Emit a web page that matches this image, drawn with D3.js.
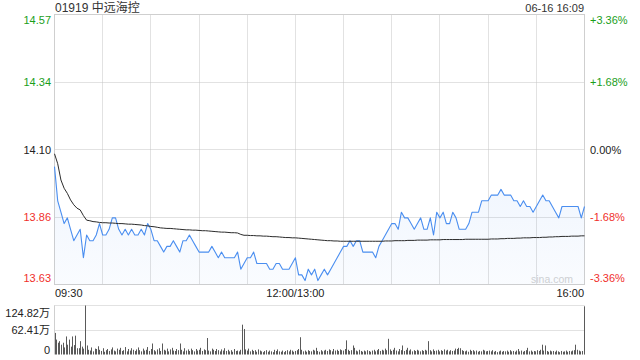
<!DOCTYPE html>
<html>
<head>
<meta charset="utf-8">
<script src="https://cdn.jsdelivr.net/npm/d3@7"></script>
<style>
  body { margin: 0; background: #fff; }
  svg { display: block; font-family: "Liberation Sans", Arial, "Noto Sans CJK SC", sans-serif; }
</style>
</head>
<body>
<svg width="640" height="360"></svg>
<script>
const TITLE = "01919 中远海控"
const STAMP = "06-16 16:09"
const PREV_CLOSE = 14.10
const PCT_STEPS = [3.36, 1.68, 0, -1.68, -3.36]
const PRICE_LABELS = ["14.57", "14.34", "14.10", "13.86", "13.63"]
const PCT_LABELS = ["+3.36%", "+1.68%", "0.00%", "-1.68%", "-3.36%"]
const TIME_LABELS = ["09:30", "12:00/13:00", "16:00"]
const TIME_LABEL_MINUTES = [0, 150, 330]
const VOLUME_TICKS = [124.82, 62.41, 0]
const VOLUME_LABELS = ["124.82万", "62.41万", "0"]

// one sample every 2 minutes, 09:30 .. 16:00 (lunch break removed)
const prices = [
  14.04, 13.92, 13.88, 13.84, 13.86, 13.82, 13.78, 13.80, 13.82, 13.72,
  13.80, 13.78, 13.78, 13.80, 13.84, 13.80, 13.80, 13.82, 13.86, 13.86,
  13.82, 13.80, 13.82, 13.80, 13.82, 13.80, 13.80, 13.82, 13.80, 13.84,
  13.82, 13.78, 13.78, 13.76, 13.74, 13.76, 13.76, 13.78, 13.76, 13.74,
  13.78, 13.78, 13.80, 13.78, 13.76, 13.74, 13.74, 13.74, 13.74, 13.76,
  13.74, 13.72, 13.74, 13.72, 13.72, 13.72, 13.72, 13.74, 13.68, 13.70,
  13.72, 13.72, 13.74, 13.70, 13.70, 13.70, 13.70, 13.68, 13.68, 13.70,
  13.70, 13.68, 13.68, 13.68, 13.70, 13.72, 13.66, 13.66, 13.64, 13.68,
  13.66, 13.68, 13.64, 13.66, 13.68, 13.66, 13.68, 13.70, 13.72, 13.74,
  13.76, 13.76, 13.78, 13.76, 13.78, 13.78, 13.74, 13.74, 13.74, 13.74,
  13.72, 13.76, 13.78, 13.80, 13.82, 13.84, 13.84, 13.82, 13.88, 13.86,
  13.86, 13.84, 13.82, 13.84, 13.86, 13.82, 13.82, 13.86, 13.80, 13.88,
  13.86, 13.88, 13.84, 13.84, 13.88, 13.86, 13.82, 13.82, 13.82, 13.84,
  13.88, 13.88, 13.88, 13.92, 13.92, 13.92, 13.94, 13.94, 13.94, 13.96,
  13.94, 13.94, 13.94, 13.92, 13.92, 13.90, 13.92, 13.90, 13.90, 13.88,
  13.90, 13.92, 13.94, 13.92, 13.92, 13.90, 13.88, 13.86, 13.90, 13.90,
  13.90, 13.90, 13.90, 13.90, 13.86, 13.90
]

const averages = [
  14.085, 14.050, 13.993, 13.964, 13.946, 13.923, 13.906, 13.894, 13.888, 13.868,
  13.852, 13.850, 13.847, 13.846, 13.844, 13.843, 13.843, 13.842, 13.842, 13.841,
  13.840, 13.840, 13.839, 13.838, 13.838, 13.837, 13.836, 13.835, 13.833, 13.832,
  13.830, 13.829, 13.827, 13.825, 13.824, 13.823, 13.823, 13.822, 13.821, 13.820,
  13.819, 13.818, 13.818, 13.817, 13.817, 13.816, 13.815, 13.815, 13.814, 13.813,
  13.812, 13.811, 13.810, 13.810, 13.809, 13.808, 13.808, 13.807, 13.802, 13.799,
  13.799, 13.798, 13.798, 13.797, 13.797, 13.796, 13.796, 13.795, 13.794, 13.794,
  13.793, 13.792, 13.791, 13.791, 13.790, 13.790, 13.789, 13.788, 13.787, 13.786,
  13.785, 13.784, 13.783, 13.782, 13.781, 13.780, 13.780, 13.779, 13.779, 13.778,
  13.778, 13.778, 13.778, 13.778, 13.778, 13.778, 13.778, 13.778, 13.778, 13.778,
  13.778, 13.778, 13.778, 13.779, 13.779, 13.779, 13.780, 13.780, 13.780, 13.780,
  13.781, 13.781, 13.781, 13.782, 13.782, 13.782, 13.782, 13.783, 13.783, 13.783,
  13.783, 13.784, 13.784, 13.784, 13.784, 13.784, 13.784, 13.784, 13.785, 13.785,
  13.785, 13.785, 13.785, 13.785, 13.785, 13.785, 13.786, 13.786, 13.786, 13.787,
  13.787, 13.788, 13.788, 13.788, 13.789, 13.789, 13.790, 13.790, 13.790, 13.791,
  13.791, 13.791, 13.792, 13.792, 13.793, 13.793, 13.794, 13.794, 13.795, 13.795,
  13.795, 13.796, 13.796, 13.796, 13.797, 13.797
]

// one bar per minute, in 万 shares
const volumes = [
  55, 38, 30, 34, 25, 30, 18, 46, 25, 38,
  20, 46, 24, 48, 16, 16, 34, 20, 15, 124.82,
  23, 12, 10, 18, 8, 15, 14, 21, 12, 9,
  16, 7, 11, 14, 9, 13, 18, 10, 8, 15,
  12, 17, 9, 11, 19, 8, 14, 10, 16, 12,
  9, 13, 18, 11, 8, 15, 10, 12, 19, 9,
  14, 28, 11, 8, 13, 16, 9, 28, 12, 10,
  15, 8, 13, 17, 10, 9, 14, 11, 28, 12,
  8, 16, 10, 13, 9, 15, 11, 8, 14, 10,
  12, 17, 9, 13, 11, 42, 10, 8, 15, 12,
  9, 14, 11, 8, 13, 10, 16, 9, 12, 8,
  11, 7, 14, 9, 10, 8, 12, 76, 65, 13,
  10, 15, 8, 12, 9, 11, 7, 13, 10, 8,
  6, 9, 11, 7, 10, 8, 6, 12, 9, 13,
  8, 7, 10, 6, 9, 11, 8, 12, 10, 7,
  9, 11, 14, 44, 12, 8, 10, 7, 11, 9,
  8, 12, 10, 17, 9, 7, 11, 8, 10, 12,
  9, 13, 11, 8, 14, 10, 12, 9, 13, 11,
  10, 14, 36, 12, 9, 11, 23, 17, 10, 8,
  12, 9, 7, 10, 8, 11, 9, 7, 10, 12,
  8, 11, 14, 9, 12, 10, 15, 11, 40, 13,
  9, 12, 17, 10, 8, 14, 11, 23, 9, 12,
  17, 10, 13, 8, 11, 9, 12, 10, 8, 11,
  9, 12, 10, 34, 11, 8, 13, 9, 10, 12,
  8, 11, 9, 13, 10, 12, 8, 11, 9, 10,
  15, 14, 17, 16, 11, 9, 8, 10, 7, 12,
  9, 11, 8, 10, 7, 9, 8, 12, 10, 8,
  9, 10, 8, 11, 7, 9, 6, 8, 10, 7,
  9, 8, 10, 7, 11, 8, 9, 7, 10, 14,
  8, 10, 7, 9, 11, 17, 8, 10, 7, 9,
  8, 11, 9, 12, 25, 10, 23, 9, 7, 10,
  8, 9, 7, 10, 8, 6, 9, 7, 8, 10,
  7, 9, 8, 10, 11, 25, 12, 10, 8, 9,
  122.5
]

const SESSION_MINUTES = 330
const PRICE_STEP = 2
const [LEFT, RIGHT] = [54.5, 584.5]
const [PRICE_TOP, PRICE_BOTTOM] = [14.5, 284.5]
const [VOL_TOP, VOL_BOTTOM] = [305.5, 354.5]
const GREEN = "#1a9e1a"
const RED = "#f0302c"
const GRID = "#c4c4c4"
const BORDER = "#cfcfcf"

const crisp = (v) => Math.round(v - 0.5) + 0.5
const pctColor = (p) => (p > 0 ? GREEN : p < 0 ? RED : "#222")

const svg = d3.select("svg")

const x = d3.scaleLinear().domain([0, SESSION_MINUTES]).range([LEFT, RIGHT])
const xBar = d3.scaleLinear().domain([0, SESSION_MINUTES]).range([55, 584])
const maxPct = d3.max(PCT_STEPS) / 100
const y = d3.scaleLinear()
  .domain([PREV_CLOSE * (1 - maxPct), PREV_CLOSE * (1 + maxPct)])
  .range([PRICE_BOTTOM, PRICE_TOP])
const yVol = d3.scaleLinear().domain([0, d3.max(VOLUME_TICKS)]).range([VOL_BOTTOM, VOL_TOP])

// gradient under the price line
const grad = svg.append("defs")
  .append("linearGradient")
  .attr("id", "priceFill")
  .attr("gradientUnits", "userSpaceOnUse")
  .attr("x1", 0).attr("x2", 0)
  .attr("y1", PRICE_TOP).attr("y2", PRICE_BOTTOM)
grad.append("stop").attr("offset", "0%").attr("stop-color", "#4a8ef0").attr("stop-opacity", 0.16)
grad.append("stop").attr("offset", "100%").attr("stop-color", "#4a8ef0").attr("stop-opacity", 0.03)

// grid
const levels = PCT_STEPS.map((p) => PREV_CLOSE * (1 + p / 100))
svg.append("g")
  .selectAll("line")
  .data(levels.slice(1, -1))
  .enter()
  .append("line")
  .attr("x1", LEFT).attr("x2", RIGHT)
  .attr("y1", (d) => crisp(y(d))).attr("y2", (d) => crisp(y(d)))
  .attr("stroke", GRID)
  .attr("stroke-dasharray", "1,1")

svg.append("g")
  .selectAll("line")
  .data(d3.range(30, SESSION_MINUTES, 30))
  .enter()
  .append("line")
  .attr("x1", (d) => crisp(x(d))).attr("x2", (d) => crisp(x(d)))
  .attr("y1", PRICE_TOP).attr("y2", PRICE_BOTTOM)
  .attr("stroke", GRID)
  .attr("stroke-dasharray", "1,1")

svg.append("g")
  .selectAll("line")
  .data(VOLUME_TICKS.filter((v) => v > 0))
  .enter()
  .append("line")
  .attr("x1", LEFT).attr("x2", RIGHT)
  .attr("y1", (d) => crisp(yVol(d))).attr("y2", (d) => crisp(yVol(d)))
  .attr("stroke", GRID)
  .attr("stroke-dasharray", "1,1")

// frames
svg.append("rect")
  .attr("x", LEFT).attr("y", PRICE_TOP)
  .attr("width", RIGHT - LEFT).attr("height", PRICE_BOTTOM - PRICE_TOP)
  .attr("fill", "none").attr("stroke", BORDER)
svg.append("g")
  .selectAll("line")
  .data([LEFT, RIGHT])
  .enter()
  .append("line")
  .attr("x1", (d) => d).attr("x2", (d) => d)
  .attr("y1", VOL_TOP).attr("y2", VOL_BOTTOM)
  .attr("stroke", BORDER)

// watermark
svg.append("text")
  .attr("x", 573).attr("y", 283)
  .attr("text-anchor", "end")
  .attr("font-size", 10.5)
  .attr("fill", "#d2d2d2")
  .text("sina.com")

// price area + line + average
const priceMinute = (d, i) => i * PRICE_STEP
const area = d3.area()
  .x((d, i) => x(priceMinute(d, i)))
  .y0(PRICE_BOTTOM)
  .y1((d) => y(d))
svg.append("path").datum(prices).attr("d", area).attr("fill", "url(#priceFill)")

const line = d3.line()
  .x((d, i) => x(priceMinute(d, i)))
  .y((d) => y(d))
svg.append("path").datum(prices)
  .attr("d", line)
  .attr("fill", "none")
  .attr("stroke", "#4a8ef0")
  .attr("stroke-width", 1.1)
  .attr("stroke-linejoin", "round")

svg.append("path").datum(averages)
  .attr("d", line)
  .attr("fill", "none")
  .attr("stroke", "#2b2b2b")
  .attr("stroke-width", 1)

// volume bars
svg.append("g")
  .selectAll("rect")
  .data(volumes)
  .enter()
  .append("rect")
  .attr("x", (d, i) => Math.floor(xBar(i)))
  .attr("width", 1)
  .attr("y", (d) => yVol(d))
  .attr("height", (d) => VOL_BOTTOM - yVol(d))
  .attr("fill", "#5a5a5a")

// texts
svg.append("text")
  .attr("x", 55).attr("y", 12)
  .attr("font-size", 12).attr("fill", "#333")
  .text(TITLE)
svg.append("text")
  .attr("x", 584).attr("y", 12)
  .attr("text-anchor", "end")
  .attr("font-size", 11).attr("fill", "#333")
  .text(STAMP)

const labelDy = (i) => (i === 0 ? 9.5 : i === levels.length - 1 ? -2.8 : 4)

svg.append("g")
  .selectAll("text")
  .data(levels)
  .enter()
  .append("text")
  .attr("x", 51)
  .attr("y", (d, i) => y(d) + labelDy(i))
  .attr("text-anchor", "end")
  .attr("font-size", 11)
  .attr("fill", (d, i) => pctColor(PCT_STEPS[i]))
  .text((d, i) => PRICE_LABELS[i])

svg.append("g")
  .selectAll("text")
  .data(levels)
  .enter()
  .append("text")
  .attr("x", 590)
  .attr("y", (d, i) => y(d) + labelDy(i))
  .attr("font-size", 11)
  .attr("fill", (d, i) => pctColor(PCT_STEPS[i]))
  .text((d, i) => PCT_LABELS[i])

svg.append("g")
  .selectAll("text")
  .data(TIME_LABELS)
  .enter()
  .append("text")
  .attr("x", (d, i) => (i === 0 ? 55 : i === TIME_LABELS.length - 1 ? 584 : x(TIME_LABEL_MINUTES[i])))
  .attr("y", 297)
  .attr("text-anchor", (d, i) => (i === 0 ? "start" : i === TIME_LABELS.length - 1 ? "end" : "middle"))
  .attr("font-size", 11)
  .attr("fill", "#222")
  .text((d) => d)

const volDy = [11, 3.5, -1]
svg.append("g")
  .selectAll("text")
  .data(VOLUME_TICKS)
  .enter()
  .append("text")
  .attr("x", 50)
  .attr("y", (d, i) => yVol(d) + volDy[i])
  .attr("text-anchor", "end")
  .attr("font-size", 11)
  .attr("fill", "#222")
  .text((d, i) => VOLUME_LABELS[i])
</script>
</body>
</html>
